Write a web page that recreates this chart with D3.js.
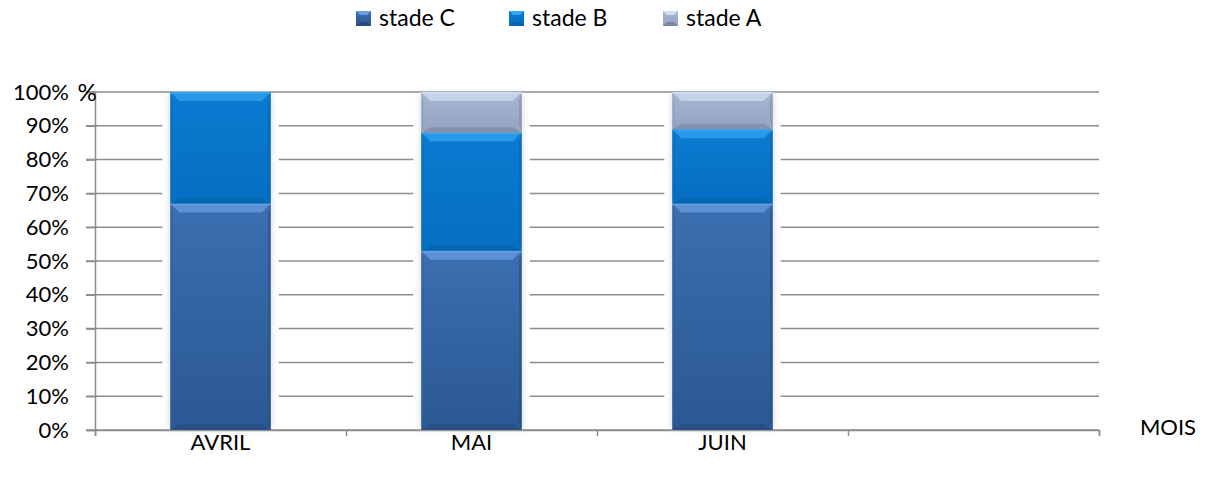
<!DOCTYPE html>
<html><head><meta charset="utf-8">
<script src="https://cdn.jsdelivr.net/npm/d3@7"></script>
<style>
body{margin:0;background:#fff;}
svg{display:block;font-family:Lato,"Open Sans",sans-serif;}
</style></head>
<body><svg id="c" width="1207" height="483"></svg>
<script>
const categories = ["AVRIL", "MAI", "JUIN", ""];
const stadeC = [67, 53, 67, null];
const stadeB = [33, 35, 22, null];
const stadeA = [0, 12, 11, null];
const seriesNames = ["stade C", "stade B", "stade A"];
const yTicks = [0,10,20,30,40,50,60,70,80,90,100];

const styles = {
  "stade C": {main:["#3a6fb1","#2b5892"], top:"#6c9fe2", bottom:"#24497c", side:"#2f5f9c"},
  "stade B": {main:["#0a7bd1","#056fc2"], top:"#36a6f4", bottom:"#0562a9", side:"#066cbd"},
  "stade A": {main:["#a6b6d2","#94a3c0"], top:"#d3def2", bottom:"#7a869f", side:"#8e9cb8"}
};

const svg = d3.select("#c");
const L=95, R=1099, T=92, B=430;
const x = d3.scaleBand().domain(categories.map((d,i)=>i)).range([L,R]).paddingInner(0.6).paddingOuter(0.3);
const xt = d3.scaleLinear().domain([0,categories.length]).range([L,R]);
const y = d3.scaleLinear().domain([0,100]).range([B,T]);

const defs = svg.append("defs");
seriesNames.forEach((s,i)=>{
  const g = defs.append("linearGradient").attr("id","g"+i).attr("x1",0).attr("y1",0).attr("x2",0).attr("y2",1);
  g.append("stop").attr("offset","0%").attr("stop-color",styles[s].main[0]);
  g.append("stop").attr("offset","100%").attr("stop-color",styles[s].main[1]);
});
const f = defs.append("filter").attr("id","sh").attr("x","-20%").attr("y","-5%").attr("width","140%").attr("height","110%");
f.append("feGaussianBlur").attr("stdDeviation",3);

// gridlines
svg.append("g").selectAll("line").data(yTicks).join("line")
  .attr("x1",L-9).attr("x2",R).attr("y1",d=>y(d)).attr("y2",d=>y(d))
  .attr("stroke","#8d8d8d").attr("stroke-width",1.5);

// y axis
const yAxis = svg.append("g").attr("transform",`translate(${L},0)`)
  .call(d3.axisLeft(y).tickValues(yTicks).tickSize(9).tickFormat(d=>d+"%"));
yAxis.select(".domain").attr("stroke","#8d8d8d").attr("stroke-width",1.5);
yAxis.selectAll(".tick line").attr("stroke","#8d8d8d").attr("stroke-width",1.5);
yAxis.selectAll(".tick text").attr("x",-26).attr("font-size",22).attr("fill","#000").attr("font-family","Lato");

// x axis
const xAxis = svg.append("g").attr("transform",`translate(0,${B})`)
  .call(d3.axisBottom(xt).tickValues(d3.range(categories.length+1)).tickSize(6).tickFormat(""));
xAxis.select(".domain").attr("stroke","#8d8d8d").attr("stroke-width",1.5);
xAxis.selectAll(".tick line").attr("stroke","#8d8d8d").attr("stroke-width",1.5);

svg.append("g").selectAll("text").data(categories).join("text")
  .attr("x",(d,i)=>x(i)+x.bandwidth()/2).attr("y",450)
  .attr("text-anchor","middle").attr("font-size",22).text(d=>d);

svg.append("text").attr("x",1168).attr("y",435).attr("text-anchor","middle").attr("font-size",22).text("MOIS");
svg.append("text").attr("x",87).attr("y",101).attr("text-anchor","middle").attr("font-size",24).text("%");

const rows = categories.map((c,i)=>({i, "stade C":stadeC[i], "stade B":stadeB[i], "stade A":stadeA[i]}))
  .filter(r=>r["stade C"]!=null);
const stack = d3.stack().keys(seriesNames)(rows);

const bw = x.bandwidth();
const halo = svg.append("g");
rows.forEach(r=>{
  const top = y(r["stade C"]+r["stade B"]+r["stade A"]);
  halo.append("rect").attr("x",x(r.i)-8).attr("y",top+3).attr("width",bw+16).attr("height",B-top-4).attr("fill","#fff");
  halo.append("rect").attr("x",x(r.i)-1).attr("y",top+2).attr("width",bw+2).attr("height",B-top-2)
    .attr("fill","#c4c4c4").attr("filter","url(#sh)").attr("opacity",0.6);
});

const barsG = svg.append("g");
stack.forEach((layer,si)=>{
  const s = seriesNames[si], st = styles[s];
  layer.forEach(d=>{
    const v = d[1]-d[0];
    if(!v) return;
    const x0 = x(d.data.i), x1 = x0+bw, y0 = y(d[1]), y1 = y(d[0]);
    const h = y1-y0, b = Math.min(9, h/3);
    const g = barsG.append("g");
    g.append("rect").attr("x",x0).attr("y",y0).attr("width",bw).attr("height",h).attr("fill",`url(#g${si})`);
    g.append("polygon").attr("points",`${x0},${y0} ${x1},${y0} ${x1-b},${y0+b} ${x0+b},${y0+b}`).attr("fill",st.top).attr("opacity",0.7);
    g.append("polygon").attr("points",`${x0},${y1} ${x1},${y1} ${x1-b},${y1-b*0.6} ${x0+b},${y1-b*0.6}`).attr("fill",st.bottom).attr("opacity",0.6);
    g.append("polygon").attr("points",`${x0},${y0} ${x0+b*0.3},${y0+b} ${x0+b*0.3},${y1-b} ${x0},${y1}`).attr("fill",st.side).attr("opacity",0.5);
    g.append("polygon").attr("points",`${x1},${y0} ${x1-b*0.3},${y0+b} ${x1-b*0.3},${y1-b} ${x1},${y1}`).attr("fill",st.bottom).attr("opacity",0.5);
    g.append("rect").attr("x",x0).attr("y",y0).attr("width",bw).attr("height",1.5).attr("fill",st.top);
  });
});

// legend
const legX = [356, 509, 663];
const leg = svg.append("g");
seriesNames.forEach((s,i)=>{
  const st = styles[s];
  const gx = legX[i], gy = 11, sz = 15, b = 4;
  leg.append("rect").attr("x",gx).attr("y",gy).attr("width",sz).attr("height",sz).attr("fill",`url(#g${i})`);
  leg.append("polygon").attr("points",`${gx},${gy} ${gx+sz},${gy} ${gx+sz-b},${gy+b} ${gx+b},${gy+b}`).attr("fill",st.top);
  leg.append("polygon").attr("points",`${gx},${gy+sz} ${gx+sz},${gy+sz} ${gx+sz-b},${gy+sz-b} ${gx+b},${gy+sz-b}`).attr("fill",st.bottom);
  leg.append("text").attr("x",gx+23).attr("y",gy+15).attr("font-size",23).text(s);
});
</script></body></html>
